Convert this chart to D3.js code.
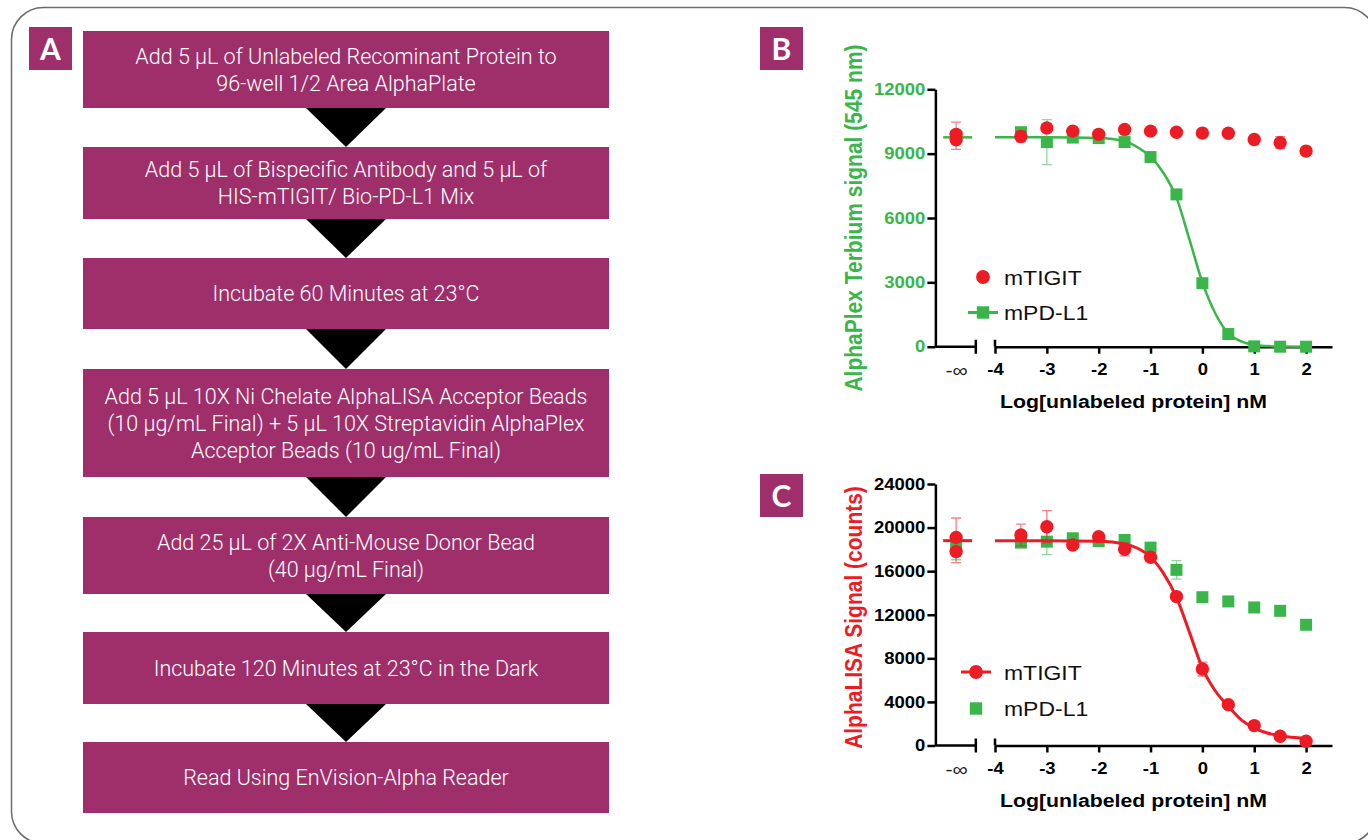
<!DOCTYPE html>
<html>
<head>
<meta charset="utf-8">
<script src="https://cdn.jsdelivr.net/npm/d3@7"></script>
<style>
    body { margin: 0; background: #fff; }
    .flow text { font-family: Roboto, "Open Sans", sans-serif; font-weight: 300; font-size: 21.5px; fill: #fff; }
    .chart text { font-family: "Liberation Sans", Arial, sans-serif; }
    .tag text { font-family: Lato, "Open Sans", sans-serif; font-weight: 700; font-size: 30px; fill: #fff; }
</style>
</head>
<body>
<svg id="fig" width="1368" height="840"></svg>
<script>
// protocol steps (panel A)
var steps = [
    ["Add 5 µL of Unlabeled Recominant Protein to", "96-well 1/2 Area AlphaPlate"],
    ["Add 5 µL of Bispecific Antibody and 5 µL of", "HIS-mTIGIT/ Bio-PD-L1 Mix"],
    ["Incubate 60 Minutes at 23°C"],
    ["Add 5 µL 10X Ni Chelate AlphaLISA Acceptor Beads", "(10 µg/mL Final) + 5 µL 10X Streptavidin AlphaPlex", "Acceptor Beads (10 ug/mL Final)"],
    ["Add 25 µL of 2X Anti-Mouse Donor Bead", "(40 µg/mL Final)"],
    ["Incubate 120 Minutes at 23°C in the Dark"],
    ["Read Using EnVision-Alpha Reader"]
];

// log[unlabeled protein] nM, the control (no protein) sits at -inf
var doses = [-3.5, -3, -2.5, -2, -1.5, -1, -0.5, 0, 0.5, 1, 1.5, 2];
var xTicks = [-4, -3, -2, -1, 0, 1, 2];
var seriesNames = ["mTIGIT", "mPD-L1"];

// panel B - AlphaPlex Terbium signal (545 nm)
var bTicks = [0, 3000, 6000, 9000, 12000];
var bTigit = [9800, 10200, 10050, 9900, 10130, 10050, 10000, 9960, 9950, 9660, 9510, 9120];
var bTigitSd = [250, 150, 100, 100, 150, 100, 80, 80, 80, 100, 280, 100];
var bTigitCtrl = [9900, 9650];
var bTigitCtrlBar = [9835, 635];
var bPdl1 = [10000, 9540, 9750, 9725, 9540, 8840, 7100, 2960, 590, 15, 0, 0];
var bPdl1Sd = [150, 1050, 100, 100, 100, 150, 150, 100, 80, 50, 30, 30];
var bPdl1Ctrl = [9800];
var bPdl1CtrlBar = [9800, 250];

// panel C - AlphaLISA signal (counts)
var cTicks = [0, 4000, 8000, 12000, 16000, 20000, 24000];
var cTigit = [19320, 20080, 18400, 19170, 18000, 17280, 13670, 7020, 3750, 1830, 850, 390];
var cTigitSd = [1000, 1470, 300, 250, 600, 400, 250, 640, 200, 150, 100, 100];
var cTigitCtrl = [19100, 17800];
var cTigitCtrlBar = [18835, 2045];
var cPdl1 = [18620, 18710, 19020, 18770, 18860, 18160, 16120, 13610, 13220, 12670, 12360, 11080];
var cPdl1Sd = [300, 1200, 300, 250, 250, 250, 850, 200, 350, 400, 200, 150];
var cPdl1Ctrl = [18300];
var cPdl1CtrlBar = [18200, 1150];

// fitted curves
var fitX = [-4, -3, -2, -1.5, -1.25, -1, -0.75, -0.5, -0.25, 0, 0.25, 0.5, 0.75, 1, 1.25, 1.5, 2];
var bPdl1Fit = [9760, 9760, 9730, 9580, 9300, 8850, 8100, 6950, 5000, 3000, 1550, 620, 250, 80, 30, 10, 0];
var cTigitFit = [18800, 18800, 18750, 18500, 18100, 17300, 15800, 13600, 10400, 7100, 5000, 3600, 2350, 1600, 1150, 900, 650];

var purple = "#9e2f6a",
    red = "#ed1c24",
    green = "#3ab54a",
    sx = 1.12; // the chart text is a bit wide in the picture

var svg = d3.select("#fig");

svg.append("rect")
    .attr("x", 11.5).attr("y", 7.5)
    .attr("width", 1365).attr("height", 836)
    .attr("rx", 32)
    .attr("fill", "none")
    .attr("stroke", "#6b6b6b")
    .attr("stroke-width", 1.5);

// ---- panel A: flow chart
var boxY = [31, 147, 258, 369, 517, 632, 742],
    boxH = [77, 72, 71, 108, 77, 72, 71],
    boxX = 83, boxW = 526, midX = boxX + boxW / 2;

var flow = svg.append("g").attr("class", "flow");
steps.forEach(function (lines, i) {
    flow.append("rect")
        .attr("x", boxX).attr("y", boxY[i])
        .attr("width", boxW).attr("height", boxH[i])
        .attr("fill", purple);
    var cy = boxY[i] + boxH[i] / 2;
    lines.forEach(function (t, j) {
        flow.append("text")
            .attr("x", midX)
            .attr("y", cy + (j - (lines.length - 1) / 2) * 27 + 7.5)
            .attr("text-anchor", "middle")
            .text(t);
    });
    if (i < steps.length - 1) {
        var y0 = boxY[i] + boxH[i];
        flow.append("path")
            .attr("d", "M" + (midX - 40) + "," + y0 + "L" + (midX + 40) + "," + y0 + "L" + midX + "," + boxY[i + 1] + "Z")
            .attr("fill", "#000");
    }
});

function tag(letter, x, y) {
    var g = svg.append("g").attr("class", "tag");
    g.append("rect").attr("x", x).attr("y", y).attr("width", 43).attr("height", 43).attr("fill", purple);
    g.append("text").attr("x", x + 21.5).attr("y", y + 32.5).attr("text-anchor", "middle").text(letter);
}
tag("A", 29, 27);
tag("B", 760, 27);
tag("C", 760, 474);

// ---- panels B and C
var x = d3.scaleLinear().domain([-4, 2.5]).range([995, 1332]);
var xAxisStart = x(-5.15), xBreak = x(-4.37), xInf = x(-4.75);

var fitLine = d3.line().curve(d3.curveMonotoneX);

function stretchText(sel) {
    sel.attr("transform", "scale(" + sx + ",1)");
}

function symbolSize(s) {
    return s.shape === d3.symbolSquare ? 144 : 140;
}

function drawSeries(g, y, s) {
    var pts = doses.map(function (d, i) { return {x: x(d), v: s.vals[i], sd: s.sd[i]}; });
    var bars = pts.concat([{x: xInf, v: s.ctrlBar[0], sd: s.ctrlBar[1]}]);
    var eb = g.append("g")
        .attr("stroke", s.color)
        .attr("stroke-opacity", 0.55)
        .attr("stroke-width", 1.3)
        .attr("fill", "none");
    bars.forEach(function (b) {
        var y1 = y(b.v + b.sd), y2 = y(Math.max(0, b.v - b.sd));
        eb.append("path").attr("d",
            "M" + b.x + "," + y1 + "V" + y2 +
            "M" + (b.x - 5) + "," + y1 + "H" + (b.x + 5) +
            "M" + (b.x - 5) + "," + y2 + "H" + (b.x + 5));
    });

    if (s.fit) {
        g.append("path")
            .attr("d", fitLine(fitX.map(function (d, i) { return [x(d), y(s.fit[i])]; })))
            .attr("fill", "none").attr("stroke", s.color).attr("stroke-width", s.fitWidth);
        g.append("line")
            .attr("x1", x(-5.0)).attr("x2", x(-4.44))
            .attr("y1", y(s.fit[0])).attr("y2", y(s.fit[0]))
            .attr("stroke", s.color).attr("stroke-width", s.fitWidth);
    }

    var sym = d3.symbol().type(s.shape).size(symbolSize(s));
    var marks = pts.map(function (p) { return [p.x, y(p.v)]; })
        .concat(s.ctrl.map(function (v) { return [xInf, y(v)]; }));
    g.selectAll(null)
        .data(marks)
        .enter()
        .append("path")
        .attr("d", sym)
        .attr("transform", function (d) { return "translate(" + d[0] + "," + d[1] + ")"; })
        .attr("fill", s.color);
}

function drawPanel(p) {
    var g = svg.append("g").attr("class", "chart");
    var y = d3.scaleLinear().domain([0, p.ticks[p.ticks.length - 1]]).range([p.bottom, p.top]);
    var y0 = y(0);

    // y axis
    var ya = g.append("g")
        .attr("transform", "translate(" + xAxisStart + ",0)")
        .call(d3.axisLeft(y).tickValues(p.ticks).tickSize(8).tickSizeOuter(0).tickPadding(1)
            .tickFormat(function (d) { return String(d); }));
    ya.selectAll("path, line").attr("stroke", "#000").attr("stroke-width", 2.5);
    ya.selectAll("text")
        .attr("font-size", 16.5).attr("font-weight", "bold").attr("fill", p.tickColor)
        .call(stretchText);

    // x axis, broken after the control position
    g.append("path")
        .attr("d", "M" + xAxisStart + "," + y0 + "H" + xBreak +
            "M" + xBreak + "," + (y0 - 7) + "V" + (y0 + 7) +
            "M" + x(-4) + "," + (y0 - 7) + "V" + y0)
        .attr("stroke", "#000").attr("stroke-width", 2.5).attr("fill", "none");
    var xa = g.append("g")
        .attr("transform", "translate(0," + y0 + ")")
        .call(d3.axisBottom(x).tickValues(xTicks).tickSize(7).tickSizeOuter(0).tickPadding(10)
            .tickFormat(function (d) { return String(d); }));
    xa.selectAll("path, line").attr("stroke", "#000").attr("stroke-width", 2.5);
    xa.selectAll("text")
        .attr("font-size", 16.5).attr("font-weight", "bold").attr("fill", "#000")
        .call(stretchText);

    var xi = g.append("g")
        .attr("transform", "translate(0," + y0 + ")")
        .call(d3.axisBottom(x).tickValues([-4.75]).tickSize(7).tickPadding(10)
            .tickFormat(function () { return "-∞"; }));
    xi.selectAll("path, line").remove();
    xi.selectAll("text")
        .attr("font-size", 19).attr("fill", "#222")
        .call(stretchText);

    // axis titles
    g.append("text")
        .attr("transform", "translate(1133.5," + (y0 + 61.5) + ") scale(" + sx + ",1)")
        .attr("text-anchor", "middle")
        .attr("font-size", 19).attr("font-weight", "bold")
        .text("Log[unlabeled protein] nM");
    g.append("text")
        .attr("transform", "translate(862," + p.titleY + ") scale(" + sx + ",1) rotate(-90)")
        .attr("text-anchor", "middle")
        .attr("font-size", 21).attr("font-weight", "bold")
        .attr("fill", p.titleColor)
        .text(p.title);

    // green drawn first so the red marks sit on top
    p.series.slice().reverse().forEach(function (s) { drawSeries(g, y, s); });

    // legend
    var lg = g.append("g");
    p.series.forEach(function (s, i) {
        var ly = p.legendY[i];
        if (s.fit) {
            lg.append("line")
                .attr("x1", p.legendX - 15).attr("x2", p.legendX + 15)
                .attr("y1", ly).attr("y2", ly)
                .attr("stroke", s.color).attr("stroke-width", 3);
        }
        lg.append("path")
            .attr("d", d3.symbol().type(s.shape).size(symbolSize(s) + 10)())
            .attr("transform", "translate(" + p.legendX + "," + ly + ")")
            .attr("fill", s.color);
        lg.append("text")
            .attr("transform", "translate(1004," + (ly + 7.5) + ") scale(" + sx + ",1)")
            .attr("font-size", 20.5)
            .attr("fill", "#111")
            .text(seriesNames[i]);
    });
}

drawPanel({
    ticks: bTicks, top: 89.3, bottom: 346.7,
    tickColor: green, titleColor: green, titleY: 218,
    title: "AlphaPlex Terbium signal (545 nm)",
    legendX: 983, legendY: [277, 312.5],
    series: [
        {vals: bTigit, sd: bTigitSd, ctrl: bTigitCtrl, ctrlBar: bTigitCtrlBar, color: red, shape: d3.symbolCircle},
        {vals: bPdl1, sd: bPdl1Sd, ctrl: bPdl1Ctrl, ctrlBar: bPdl1CtrlBar, color: green, shape: d3.symbolSquare, fit: bPdl1Fit, fitWidth: 2.5}
    ]
});

drawPanel({
    ticks: cTicks, top: 484, bottom: 745.5,
    tickColor: "#000", titleColor: red, titleY: 617.5,
    title: "AlphaLISA Signal (counts)",
    legendX: 976, legendY: [672, 708.5],
    series: [
        {vals: cTigit, sd: cTigitSd, ctrl: cTigitCtrl, ctrlBar: cTigitCtrlBar, color: red, shape: d3.symbolCircle, fit: cTigitFit, fitWidth: 3},
        {vals: cPdl1, sd: cPdl1Sd, ctrl: cPdl1Ctrl, ctrlBar: cPdl1CtrlBar, color: green, shape: d3.symbolSquare}
    ]
});
</script>
</body>
</html>
